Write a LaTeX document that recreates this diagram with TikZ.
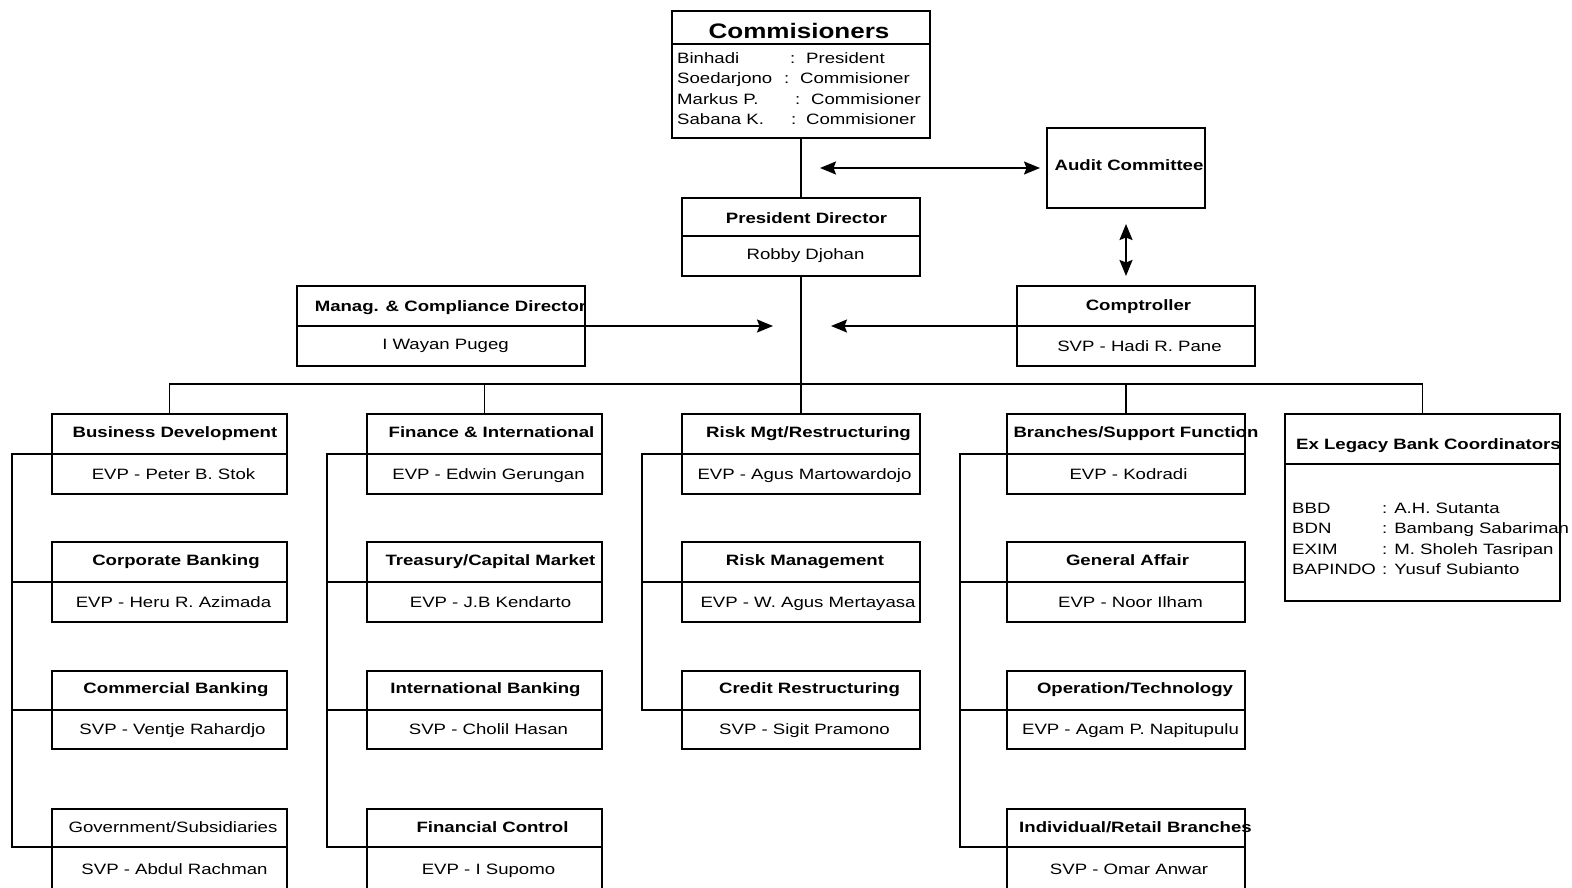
\documentclass[tikz,border=0pt]{standalone}
\usepackage{fontspec}
\setmainfont[FakeStretch=1.24]{Liberation Sans}
\usetikzlibrary{arrows.meta}
\newcommand\twopart[6]{%
  \node[part, anchor=north west, minimum width=#4pt, minimum height=#5pt] (#1T) at (#2,#3) {};
  \node[part, anchor=north, minimum width=#4pt, minimum height=#6pt] (#1B) at (#1T.south) {};
}
\begin{document}
\begin{tikzpicture}[x=1pt,y=-1pt,
  part/.style={draw, line width=1.8pt, rectangle, inner sep=0pt, outer sep=0pt},
  txt/.style={inner sep=0pt, text height=11pt, text depth=3pt, font=\fontsize{15}{18}\selectfont},
  ttl/.style={txt, font=\fontsize{15}{18}\selectfont\bfseries},
  conn/.style={line width=1.8pt},
  tip/.tip={Stealth[length=16pt,width=13pt,inset=2.5pt]},
  arr/.style={conn, -tip},
  dbl/.style={conn, tip-tip}]
\clip (0,0) rectangle (1572,888);
\fill[white] (0,0) rectangle (1572,888);

% Commissioners
\twopart{com}{672}{11}{258}{33}{94}
\node[inner sep=0pt, font=\fontsize{21}{24}\selectfont\bfseries] (comt) at (799,31) {Commisioners};
\node[txt, anchor=west] (coml1) at (677,60) {\makebox[113pt][l]{Binhadi}\makebox[16pt][l]{:}President};
\node[txt, anchor=west] (coml2) at (677,80) {\makebox[107pt][l]{Soedarjono}\makebox[16pt][l]{:}Commisioner};
\node[txt, anchor=west] (coml3) at (677,101) {\makebox[118pt][l]{Markus P.}\makebox[16pt][l]{:}Commisioner};
\node[txt, anchor=west] (coml4) at (677,121) {\makebox[114pt][l]{Sabana K.}\makebox[15pt][l]{:}Commisioner};

% Audit committee
\node[part, anchor=north west, minimum width=158pt, minimum height=80pt] (ac) at (1047,128) {};
\node[ttl] (act) at (1129,167) {Audit Committee};

% President director
\twopart{pd}{682}{198}{238}{38}{40}
\node[ttl] (pdt) at (806.5,219) {President Director};
\node[txt] (pdn) at (805.5,255) {Robby Djohan};

% Manag & Compliance
\twopart{mg}{297}{286}{288}{40}{40}
\node[ttl] (mgt) at (450.5,307) {Manag. \& Compliance Director};
\node[txt] (mgn) at (445.5,345) {I Wayan Pugeg};

% Comptroller
\twopart{ct}{1017}{286}{238}{40}{40}
\node[ttl] (ctt) at (1138.5,306) {Comptroller};
\node[txt] (ctn) at (1139.5,347) {SVP - Hadi R. Pane};

% Column 1
\twopart{ca}{52}{414}{235}{40}{40}
\twopart{cb}{52}{542}{235}{40}{40}
\twopart{cc}{52}{671}{235}{39}{39}
\twopart{cd}{52}{809}{235}{38}{48}
\node[ttl] (cat) at (175,433) {Business Development};
\node[txt] (can) at (173.5,475) {EVP - Peter B. Stok};
\node[ttl] (cbt) at (176,561) {Corporate Banking};
\node[txt] (cbn) at (173.5,603) {EVP - Heru R. Azimada};
\node[ttl] (cct) at (176,689) {Commercial Banking};
\node[txt] (ccn) at (172.5,730) {SVP - Ventje Rahardjo};
\node[txt] (cdt) at (173,828) {Government/Subsidiaries};
\node[txt] (cdn) at (174.5,870) {SVP - Abdul Rachman};

% Column 2
\twopart{fa}{367}{414}{235}{40}{40}
\twopart{fb}{367}{542}{235}{40}{40}
\twopart{fc}{367}{671}{235}{39}{39}
\twopart{fd}{367}{809}{235}{38}{48}
\node[ttl] (fat) at (491.5,433) {Finance \& International};
\node[txt] (fan) at (488.5,475) {EVP - Edwin Gerungan};
\node[ttl] (fbt) at (490.5,561) {Treasury/Capital Market};
\node[txt] (fbn) at (490.5,603) {EVP - J.B Kendarto};
\node[ttl] (fct) at (485.5,689) {International Banking};
\node[txt] (fcn) at (488.5,730) {SVP - Cholil Hasan};
\node[ttl] (fdt) at (492.5,828) {Financial Control};
\node[txt] (fdn) at (488.5,870) {EVP - I Supomo};

% Column 3
\twopart{ra}{682}{414}{238}{40}{40}
\twopart{rb}{682}{542}{238}{40}{40}
\twopart{rc}{682}{671}{238}{39}{39}
\node[ttl] (rat) at (808.5,433) {Risk Mgt/Restructuring};
\node[txt] (ran) at (804.5,475) {EVP - Agus Martowardojo};
\node[ttl] (rbt) at (805,561) {Risk Management};
\node[txt] (rbn) at (808,603) {EVP - W. Agus Mertayasa};
\node[ttl] (rct) at (809.5,689) {Credit Restructuring};
\node[txt] (rcn) at (804.5,730) {SVP - Sigit Pramono};

% Column 4
\twopart{ba}{1007}{414}{238}{40}{40}
\twopart{bb}{1007}{542}{238}{40}{40}
\twopart{bc}{1007}{671}{238}{39}{39}
\twopart{bd}{1007}{809}{238}{38}{48}
\node[ttl] (bat) at (1136,433) {Branches/Support Function};
\node[txt] (ban) at (1128.5,475) {EVP - Kodradi};
\node[ttl] (bbt) at (1127.5,561) {General Affair};
\node[txt] (bbn) at (1130.5,603) {EVP - Noor Ilham};
\node[ttl] (bct) at (1135,689) {Operation/Technology};
\node[txt] (bcn) at (1130.5,730) {EVP - Agam P. Napitupulu};
\node[ttl] (bdt) at (1135.5,828) {Individual/Retail Branches};
\node[txt] (bdn) at (1129,870) {SVP - Omar Anwar};

% Ex Legacy
\twopart{el}{1285}{414}{275}{50}{137}
\begin{scope}
  \clip (elT.north west) rectangle (elT.south east);
  \node[ttl, anchor=west] (elt) at (1296,445) {Ex Legacy Bank Coordinators};
\end{scope}
\node[txt, anchor=west] (el1) at (1292,509) {\makebox[90pt][l]{BBD}: A.H. Sutanta};
\node[txt, anchor=west] (el2) at (1292,529) {\makebox[90pt][l]{BDN}: Bambang Sabariman};
\node[txt, anchor=west] (el3) at (1292,550) {\makebox[90pt][l]{EXIM}: M. Sholeh Tasripan};
\node[txt, anchor=west] (el4) at (1292,570) {\makebox[90pt][l]{BAPINDO}: Yusuf Subianto};

% Connectors
\coordinate (bar) at (800,384);
\draw[conn] (comB.south) -- (pdT.north);
\draw[conn] (pdB.south) -- (pdB.south |- bar);
\draw[conn] (caT.north) |- (elT.north |- bar) -- (elT.north);
\draw[conn] (faT.north) -- (faT.north |- bar);
\draw[conn] (raT.north) -- (raT.north |- bar);
\draw[conn] (baT.north) -- (baT.north |- bar);

\draw[conn] (caB.north west) -- ++(-40,0) |- (cdB.north west);
\draw[conn] (cbB.north west) -- ++(-40,0);
\draw[conn] (ccB.north west) -- ++(-40,0);
\draw[conn] (faB.north west) -- ++(-40,0) |- (fdB.north west);
\draw[conn] (fbB.north west) -- ++(-40,0);
\draw[conn] (fcB.north west) -- ++(-40,0);
\draw[conn] (raB.north west) -- ++(-40,0) |- (rcB.north west);
\draw[conn] (rbB.north west) -- ++(-40,0);
\draw[conn] (baB.north west) -- ++(-47,0) |- (bdB.north west);
\draw[conn] (bbB.north west) -- ++(-47,0);
\draw[conn] (bcB.north west) -- ++(-47,0);

\draw[dbl] ([xshift=19pt]ac.west -| comB.south) -- ([xshift=-7pt]ac.west);
\draw[dbl] ([yshift=-16pt]ac.south) -- ([yshift=10pt]ac.south |- ctT.north);
\draw[arr] (mgB.north east) -- ([xshift=-28pt]mgB.north east -| pdB.south);
\draw[arr] (ctB.north west) -- ([xshift=30pt]ctB.north west -| pdB.south);
\end{tikzpicture}
\end{document}
